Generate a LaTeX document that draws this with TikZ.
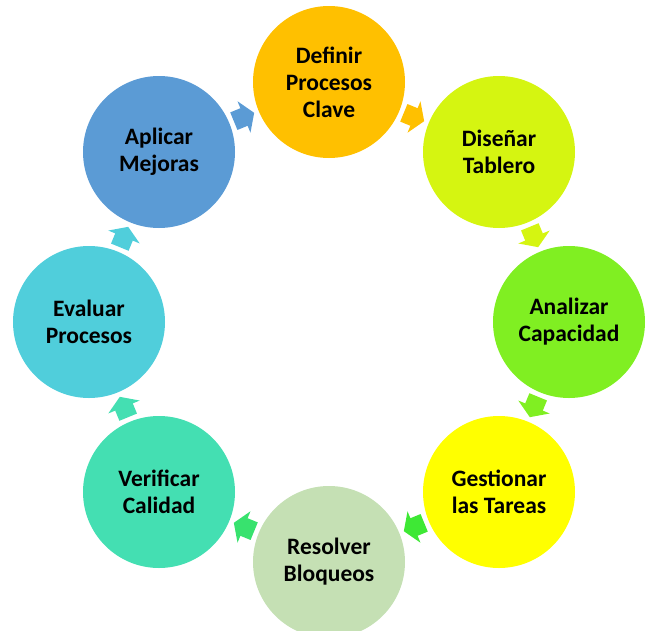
\documentclass[tikz,border=0pt]{standalone}
\usepackage{fontspec}
\setmainfont{Carlito}
\usetikzlibrary{calc}

\definecolor{cDef}{HTML}{FFC000}
\definecolor{cDis}{HTML}{D5F511}
\definecolor{cAna}{HTML}{80EF22}
\definecolor{cGes}{HTML}{FFFF00}
\definecolor{cRes}{HTML}{C5E0B4}
\definecolor{cVer}{HTML}{44DFB2}
\definecolor{cEva}{HTML}{50CEDB}
\definecolor{cApl}{HTML}{5B9BD5}
\definecolor{aGes}{HTML}{3EE835}
\definecolor{aRes}{HTML}{38E26E}

\tikzset{
  stage/.style={circle, minimum size=152pt, inner sep=0pt, align=center,
    font=\bfseries\fontsize{23.5}{27}\selectfont, text=black},
}

% block arrow half-way between two stages, pointing from #1 to #2
\newcommand\cyclearrow[3]{%
  \fill[#3] let \p1=($(#2)-(#1)$), \n1={atan2(\y1,\x1)}, \p2=($(#1)!0.5!(#2)$) in
    ($(\p2)+(\n1:-11pt)+(\n1+90:9.5pt)$) --
    ($(\p2)+(\n1+90:9.5pt)$) --
    ($(\p2)+(\n1+90:17pt)$) --
    ($(\p2)+(\n1:11pt)$) --
    ($(\p2)+(\n1-90:17pt)$) --
    ($(\p2)+(\n1-90:9.5pt)$) --
    ($(\p2)+(\n1:-11pt)+(\n1-90:9.5pt)$) -- cycle;}

\begin{document}
\begin{tikzpicture}[x=1pt,y=-1pt]
  \useasboundingbox (0,0) rectangle (646,630);

  \node[stage, fill=cDef] (def) at (329,82)  {Definir\\Procesos\\Clave};
  \node[stage, fill=cDis] (dis) at (499,152) {Diseñar\\Tablero};
  \node[stage, fill=cAna] (ana) at (569,322) {Analizar\\Capacidad};
  \node[stage, fill=cGes] (ges) at (499,492) {Gestionar\\las Tareas};
  \node[stage, fill=cRes] (res) at (329,562) {Resolver\\Bloqueos};
  \node[stage, fill=cVer] (ver) at (159,492) {Verificar\\Calidad};
  \node[stage, fill=cEva] (eva) at (89,322)  {Evaluar\\Procesos};
  \node[stage, fill=cApl] (apl) at (159,152) {Aplicar\\Mejoras};

  \cyclearrow{def}{dis}{cDef}
  \cyclearrow{dis}{ana}{cDis}
  \cyclearrow{ana}{ges}{cAna}
  \cyclearrow{ges}{res}{aGes}
  \cyclearrow{res}{ver}{aRes}
  \cyclearrow{ver}{eva}{cVer}
  \cyclearrow{eva}{apl}{cEva}
  \cyclearrow{apl}{def}{cApl}
\end{tikzpicture}
\end{document}
